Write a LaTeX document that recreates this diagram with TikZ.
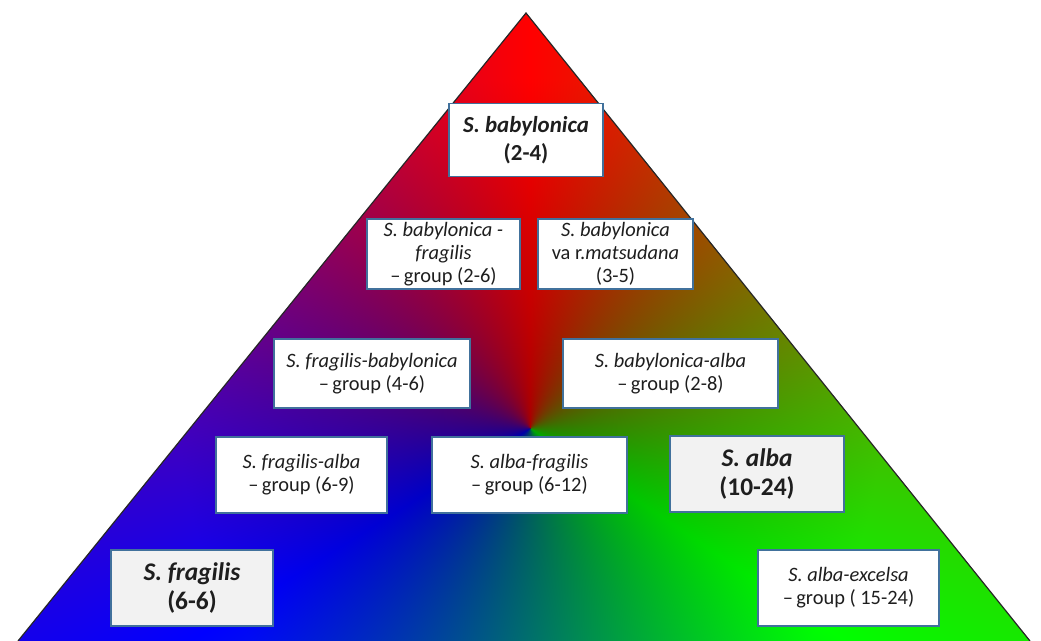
\documentclass[tikz,border=0pt]{standalone}
\usepackage{fontspec}
\setmainfont{Carlito}
\usetikzlibrary{positioning}

\definecolor{boxblue}{RGB}{65,113,156}
\definecolor{boxgrey}{RGB}{242,242,242}
\definecolor{inktext}{RGB}{30,30,30}

% colour wheel: red at the top, blue bottom left, green bottom right
\pgfdeclarefunctionalshading{willowwheel}{\pgfpointorigin}{\pgfpoint{1041bp}{641bp}}{}{
 213 sub exch 530 sub
 2 copy dup mul exch dup mul add sqrt
 350 div dup 1 gt {pop 1} if 0.35 mul 0.65 add
 3 1 roll atan
 90 sub dup 0 lt {360 add} if
 dup 122 lt
 {122 div dup 1 exch sub 0 3 -1 roll}
 {dup 236 lt
  {122 sub 114 div dup 1 exch sub 0 3 1 roll}
  {236 sub 124 div dup 1 exch sub 0}
  ifelse}
 ifelse
 3 index mul 3 1 roll
 3 index mul 3 1 roll
 3 index mul 3 1 roll
 4 -1 roll pop
}

\begin{document}
\begin{tikzpicture}[x=1bp, y=-1bp,
  group/.style={draw=boxblue, line width=1.2bp, fill=white, align=center,
    inner sep=2bp, text=inktext, font=\fontsize{20.5}{23}\selectfont},
  species/.style={group, font=\fontsize{23}{28}\selectfont\bfseries},
  parent/.style={species, fill=boxgrey, font=\fontsize{25.5}{30}\selectfont\bfseries}]
\useasboundingbox (0,0) rectangle (1041,641);

% Triangle
\begin{scope}
\clip (526,13) -- (1030,641) -- (18,641) -- cycle;
\node[anchor=south west, inner sep=0, outer sep=0] (wheel) at (0,641) {\pgfuseshading{willowwheel}};
\end{scope}
\draw[line width=1.2bp, black!85] (18,641) -- (526,13) -- (1030,641);

% Top
\node[species, minimum width=154bp, minimum height=73bp] (babylonica) at (526,140) {\textit{S. babylonica}\\(2-4)};

% Second row
\node[group, minimum width=153bp, minimum height=70bp] (babyfrag) at (443.5,254) {\textit{S. babylonica -}\\\textit{fragilis}\\--\,group (2-6)};
\node[group, minimum width=155bp, minimum height=70bp] (matsudana) at (615.5,254) {\textit{S. babylonica}\\va r.\textit{matsudana}\\(3-5)};

% Third row
\node[group, minimum width=196bp, minimum height=69bp] (fragbaby) at (372,373.5) {\textit{S. fragilis-babylonica}\\--\,group (4-6)};
\node[group, minimum width=215bp, minimum height=69bp] (babyalba) at (670.5,373.5) {\textit{S. babylonica-alba}\\--\,group (2-8)};

% Fourth row
\node[group, minimum width=171bp, minimum height=76bp] (fragalba) at (301.5,475) {\textit{S. fragilis-alba}\\--\,group (6-9)};
\node[group, minimum width=195bp, minimum height=76bp] (albafrag) at (529.5,475) {\textit{S. alba-fragilis}\\--\,group (6-12)};
\node[parent, minimum width=174bp, minimum height=76bp] (alba) at (757,474) {\textit{S. alba}\\(10-24)};

% Bottom
\node[parent, minimum width=162bp, minimum height=76bp] (fragilis) at (192,588) {\textit{S. fragilis}\\(6-6)};
\node[group, minimum width=181bp, minimum height=76bp] (excelsa) at (848.5,588) {\textit{S. alba-excelsa}\\--\,group ( 15-24)};
\end{tikzpicture}
\end{document}
